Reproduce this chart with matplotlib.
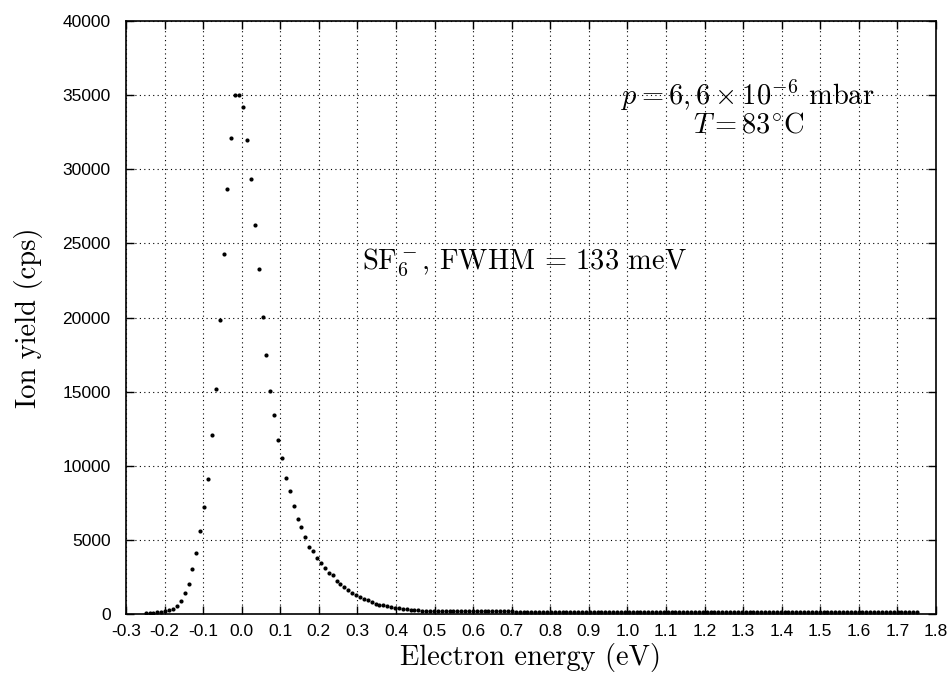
import numpy as np
import matplotlib
matplotlib.use("Agg")
import matplotlib.pyplot as plt

# Energy scan: start and step (eV)
energy_start = -0.249
energy_step = 0.0101

ion_yield = [
    50, 70, 90, 115, 135, 200, 250, 357, 560, 857,
    1416, 2044, 3015, 4135, 5578, 7197, 9106, 12074, 15156, 19830,
    24282, 28647, 32128, 34987, 35027, 34197, 31973, 29321, 26218, 23270,
    20033, 17449, 15062, 13443, 11757, 10502, 9153, 8276, 7305, 6428,
    5889, 5214, 4519, 4229, 3777, 3460, 3103, 2745, 2651, 2206,
    2003, 1801, 1619, 1437, 1302, 1126, 1032, 944, 809, 675,
    629, 580, 520, 470, 420, 380, 345, 310, 285, 260,
    240, 225, 210, 205,
    200, 197, 195, 192, 190, 188, 186, 185, 183, 182,
    180, 179, 178, 176, 175, 174, 173, 172, 171, 170,
    169, 168, 167, 166, 165, 164, 163, 163, 162, 161,
    160, 159, 158, 158, 157, 156, 155, 155, 154, 153,
    153, 152, 152, 151, 151, 150, 150, 149, 149, 148,
    148, 147, 147, 146, 146, 145, 145, 144, 144, 143,
    143, 142, 142, 141, 141, 140, 140, 139, 139, 138,
    138, 137, 137, 136, 136, 135, 135, 134, 134, 134,
    133, 133, 132, 132, 131, 131, 131, 130, 130, 129,
    129, 129, 128, 128, 127, 127, 127, 126, 126, 125,
    125, 125, 124, 124, 124, 123, 123, 122, 122, 122,
    121, 121, 121, 120, 120, 120, 119, 119, 119, 118,
    118, 118, 117, 117, 117,
]
energy = energy_start + energy_step * np.arange(len(ion_yield))

x_ticks = [round(v, 1) for v in np.arange(-0.3, 1.81, 0.1)]
y_ticks = [0, 5000, 10000, 15000, 20000, 25000, 30000, 35000, 40000]

plt.rcParams['mathtext.fontset'] = 'cm'
plt.rcParams['axes.unicode_minus'] = False

fig = plt.figure(figsize=(9.53, 6.75), dpi=100)
ax = fig.add_axes([126/953, 1-614/675, (936-126)/953, (614-21)/675])

ax.plot(energy, ion_yield, 'o', color='black', markersize=3.0, markeredgewidth=0)

ax.set_xlim(-0.3, 1.8)
ax.set_ylim(0, 40000)
ax.set_xticks(x_ticks)
ax.set_xticklabels([f"{v:.1f}" for v in x_ticks])
ax.set_yticks(y_ticks)
ax.set_yticklabels([str(v) for v in y_ticks])
for lab in ax.get_xticklabels() + ax.get_yticklabels():
    lab.set_fontfamily('Liberation Sans')
    lab.set_fontsize(12.5)

ax.tick_params(direction='in', length=6, width=1, top=True, right=True)
ax.tick_params(axis='y', pad=11)
ax.tick_params(axis='x', pad=7)
ax.grid(True, linestyle=(0, (1, 3)), color='black', linewidth=0.8)
for s in ax.spines.values():
    s.set_linewidth(1.2)

ax.set_xlabel('Electron energy (eV)', fontfamily='cmr10', fontsize=20.5, labelpad=3)
ax.set_ylabel('Ion yield (cps)', fontfamily='cmr10', fontsize=20.5, labelpad=14)

ax.text(1.313, 35000, r'$p = 6,6\times10^{-6}$ mbar', fontfamily='cmr10', fontsize=20.5,
        ha='center', va='center')
ax.text(1.313, 33050, r'$T = 83^{\circ}\mathrm{C}$', fontsize=20.5, ha='center', va='center')
ax.text(0.734, 23750, r'$\mathrm{SF}_6^-$, FWHM = 133 meV', fontfamily='cmr10', fontsize=20.5,
        ha='center', va='center')

fig.savefig('out.png', dpi=100)
